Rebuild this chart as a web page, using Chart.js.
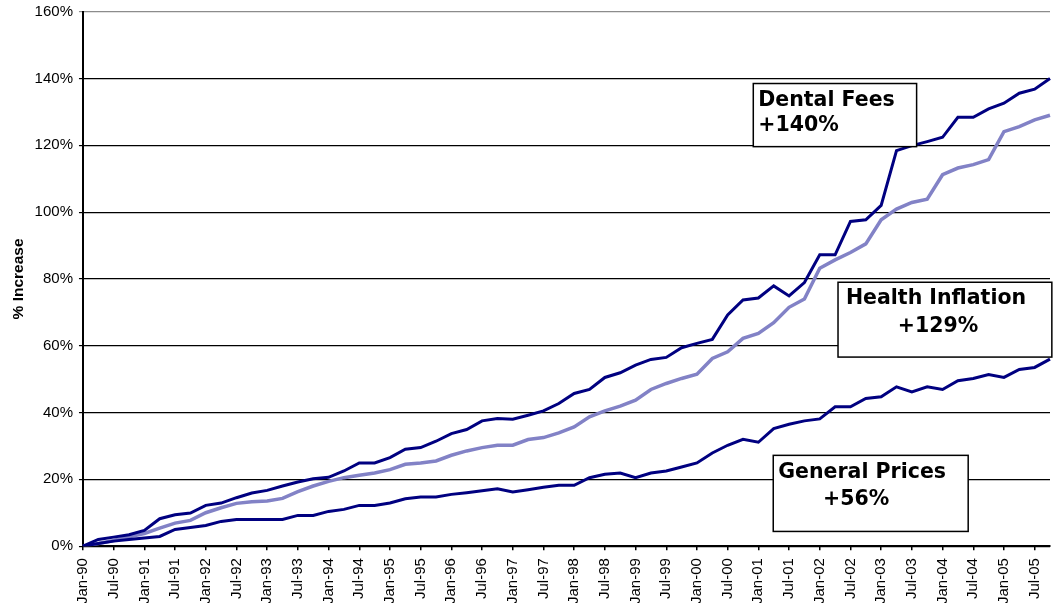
<!DOCTYPE html>
<html>
<head>
<meta charset="utf-8">
<title>Dental Fees vs Health Inflation vs General Prices</title>
<script src="https://cdn.jsdelivr.net/npm/chart.js@4.4.1/dist/chart.umd.min.js"></script>
<style>
  html, body { margin: 0; padding: 0; background: #ffffff; overflow: hidden; }
  #wrap { position: relative; width: 1053px; height: 614px; }
</style>
</head>
<body>
<div id="wrap"><canvas id="chart"></canvas></div>
<script>
// Quarterly periods, Jan-90 to Oct-05
const quarters = [
  'Jan-90','Apr-90','Jul-90','Oct-90','Jan-91','Apr-91','Jul-91','Oct-91',
  'Jan-92','Apr-92','Jul-92','Oct-92','Jan-93','Apr-93','Jul-93','Oct-93',
  'Jan-94','Apr-94','Jul-94','Oct-94','Jan-95','Apr-95','Jul-95','Oct-95',
  'Jan-96','Apr-96','Jul-96','Oct-96','Jan-97','Apr-97','Jul-97','Oct-97',
  'Jan-98','Apr-98','Jul-98','Oct-98','Jan-99','Apr-99','Jul-99','Oct-99',
  'Jan-00','Apr-00','Jul-00','Oct-00','Jan-01','Apr-01','Jul-01','Oct-01',
  'Jan-02','Apr-02','Jul-02','Oct-02','Jan-03','Apr-03','Jul-03','Oct-03',
  'Jan-04','Apr-04','Jul-04','Oct-04','Jan-05','Apr-05','Jul-05','Oct-05'
];

// Cumulative % increase since Jan-90
const dentalFees = [
  0, 2.0, 2.7, 3.4, 4.7, 8.2, 9.4, 9.9,
  12.2, 12.9, 14.5, 15.9, 16.7, 18.0, 19.2, 20.2,
  20.6, 22.5, 24.9, 24.9, 26.5, 29.0, 29.5, 31.4,
  33.7, 34.9, 37.5, 38.2, 38.0, 39.2, 40.5, 42.7,
  45.7, 46.9, 50.5, 51.9, 54.2, 55.9, 56.5, 59.4,
  60.7, 61.9, 69.2, 73.7, 74.3, 77.9, 74.9, 78.9,
  87.2, 87.2, 97.2, 97.7, 102.0, 118.4, 119.9, 121.1,
  122.4, 128.4, 128.4, 130.9, 132.6, 135.6, 136.8, 140
];

const healthInflation = [
  0, 0.8, 1.7, 2.8, 3.8, 5.4, 6.9, 7.7,
  10.0, 11.5, 12.8, 13.3, 13.5, 14.3, 16.3, 18.0,
  19.4, 20.5, 21.2, 21.9, 22.9, 24.5, 24.9, 25.5,
  27.2, 28.5, 29.5, 30.2, 30.2, 31.9, 32.5, 33.9,
  35.7, 38.7, 40.5, 41.9, 43.7, 46.9, 48.7, 50.2,
  51.5, 56.2, 58.2, 62.2, 63.7, 66.9, 71.5, 74.0,
  83.2, 85.7, 87.9, 90.5, 97.7, 100.9, 102.9, 103.9,
  111.2, 113.2, 114.2, 115.7, 124.1, 125.6, 127.6, 129
];

const generalPrices = [
  0, 0.8, 1.5, 2.0, 2.4, 2.9, 5.0, 5.6,
  6.2, 7.4, 8.0, 8.0, 8.0, 8.0, 9.2, 9.2,
  10.4, 11.0, 12.2, 12.2, 12.9, 14.2, 14.7, 14.7,
  15.5, 16.0, 16.6, 17.2, 16.2, 16.9, 17.6, 18.2,
  18.2, 20.5, 21.5, 21.9, 20.5, 21.9, 22.5, 23.7,
  24.9, 27.9, 30.2, 32.0, 31.1, 35.2, 36.5, 37.5,
  38.1, 41.7, 41.7, 44.2, 44.7, 47.7, 46.2, 47.7,
  46.9, 49.5, 50.2, 51.4, 50.5, 52.9, 53.5, 56
];

const seriesNames = ['Dental Fees', 'General Prices', 'Health Inflation'];
const yTicks = [0, 20, 40, 60, 80, 100, 120, 140, 160];

const last = arr => arr[arr.length - 1];
const pctLabel = v => '+' + Math.round(v) + '%';

// Callout boxes, anchored in axis units (category index, % value);
// text offsets are in pixels from the box's left/top edge.
const callouts = [
  {
    x0: 43.67, x1: 54.31, yTop: 138.5, yBottom: 119.6,
    lines: [
      { text: seriesNames[0], dx: 5, dy: 22, align: 'left' },
      { text: pctLabel(last(dentalFees)), dx: 5, dy: 47.5, align: 'left' }
    ]
  },
  {
    x0: 49.19, x1: 63.12, yTop: 79.0, yBottom: 56.6,
    lines: [
      { text: seriesNames[2], dx: 98, dy: 22, align: 'center' },
      { text: pctLabel(last(healthInflation)), dx: 100, dy: 49.5, align: 'center' }
    ]
  },
  {
    x0: 44.97, x1: 57.67, yTop: 27.18, yBottom: 4.40,
    lines: [
      { text: seriesNames[1], dx: 5, dy: 22.7, align: 'left' },
      { text: pctLabel(last(generalPrices)), dx: 83, dy: 50, align: 'center' }
    ]
  }
];

const calloutPlugin = {
  id: 'callouts',
  afterDatasetsDraw(chart) {
    const { ctx, scales: { x, y } } = chart;
    ctx.save();
    callouts.forEach(c => {
      const left = x.getPixelForValue(c.x0);
      const right = x.getPixelForValue(c.x1);
      const top = y.getPixelForValue(c.yTop);
      const bottom = y.getPixelForValue(c.yBottom);
      ctx.fillStyle = '#ffffff';
      ctx.fillRect(left, top, right - left, bottom - top);
      ctx.strokeStyle = '#000000';
      ctx.lineWidth = 1.5;
      ctx.strokeRect(left, top, right - left, bottom - top);
      ctx.fillStyle = '#000000';
      ctx.font = 'bold 20.5px "DejaVu Sans", Verdana, sans-serif';
      ctx.textBaseline = 'alphabetic';
      c.lines.forEach(l => {
        ctx.textAlign = l.align;
        ctx.fillText(l.text, left + l.dx, top + l.dy);
      });
    });
    ctx.restore();
  }
};

const axisFont = { family: '"Liberation Sans", Arial, sans-serif', size: 15 };

new Chart(document.getElementById('chart'), {
  type: 'line',
  data: {
    labels: quarters,
    datasets: [
      {
        label: seriesNames[0],
        data: dentalFees,
        borderColor: '#000080',
        borderWidth: 3,
        pointRadius: 0,
        tension: 0,
        fill: false
      },
      {
        label: seriesNames[1],
        data: generalPrices,
        borderColor: '#000080',
        borderWidth: 3,
        pointRadius: 0,
        tension: 0,
        fill: false
      },
      {
        label: seriesNames[2],
        data: healthInflation,
        borderColor: '#8282C6',
        borderWidth: 3.5,
        pointRadius: 0,
        tension: 0,
        fill: false
      }
    ]
  },
  options: {
    responsive: true,
    maintainAspectRatio: false,
    animation: false,
    layout: { padding: { left: 5, right: 3, top: 11.7, bottom: 2 } },
    plugins: {
      legend: { display: false },
      tooltip: { enabled: false }
    },
    scales: {
      x: {
        type: 'category',
        offset: false,
        border: { display: true, color: '#000000', width: 2 },
        grid: {
          drawOnChartArea: false,
          drawTicks: true,
          tickLength: 4,
          color: '#000000',
          lineWidth: 1.5
        },
        ticks: {
          autoSkip: false,
          minRotation: 90,
          maxRotation: 90,
          padding: 8,
          color: '#000000',
          font: axisFont,
          callback: function (value) {
            const l = this.getLabelForValue(value);
            return (l.startsWith('Jan') || l.startsWith('Jul')) ? l : null;
          }
        },
        afterFit: scale => { scale.paddingLeft = 0; scale.paddingRight = 0; }
      },
      y: {
        min: yTicks[0],
        max: yTicks[yTicks.length - 1],
        afterBuildTicks: axis => { axis.ticks = yTicks.map(v => ({ value: v })); },
        afterFit: scale => { scale.paddingTop = 0; scale.paddingBottom = 0; },
        border: { display: true, color: '#000000', width: 2 },
        grid: {
          drawTicks: true,
          tickLength: 4,
          lineWidth: 1.2,
          color: ctx => (ctx.tick && ctx.tick.value === yTicks[yTicks.length - 1]) ? '#8c8c8c' : '#000000'
        },
        ticks: {
          padding: 6,
          color: '#000000',
          font: axisFont,
          callback: v => v + '%'
        },
        title: {
          display: true,
          text: '% Increase',
          color: '#000000',
          font: { family: '"Liberation Sans", Arial, sans-serif', size: 15.5, weight: 'bold' },
          padding: { top: 4, bottom: 1 }
        }
      }
    }
  },
  plugins: [calloutPlugin]
});
</script>
</body>
</html>
